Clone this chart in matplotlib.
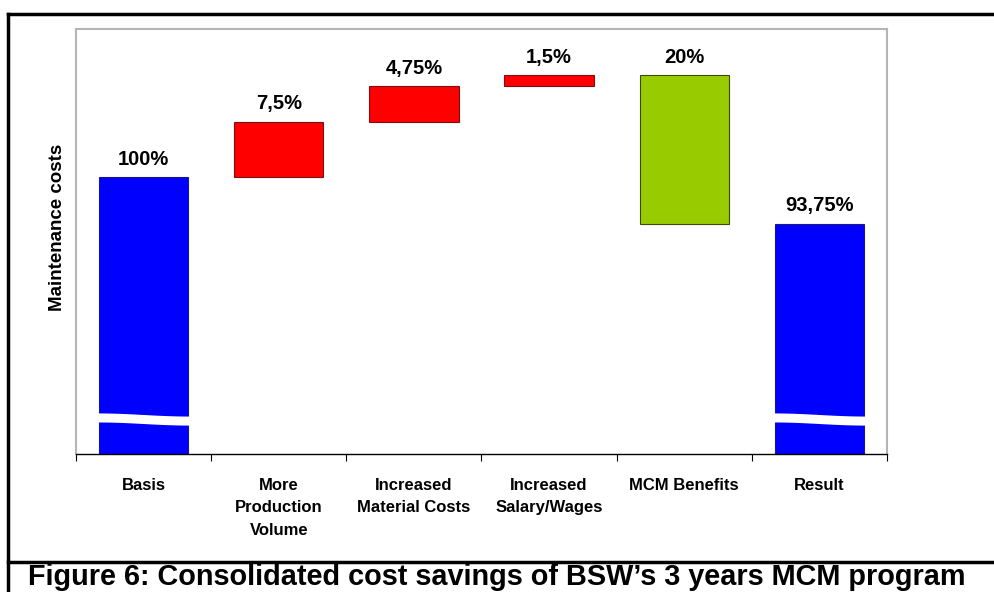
import numpy as np
import matplotlib.pyplot as plt
from matplotlib.lines import Line2D

plt.rcParams['font.family'] = ['Liberation Sans', 'DejaVu Sans']

# data
categories = ["Basis", "More\nProduction\nVolume", "Increased\nMaterial Costs",
              "Increased\nSalary/Wages", "MCM Benefits", "Result"]
changes = [100, 7.5, 4.75, 1.5, -20, 93.75]
value_labels = ["100%", "7,5%", "4,75%", "1,5%", "20%", "93,75%"]
kinds = ["total", "up", "up", "up", "down", "total"]

colors = {"total": "#0000FF", "up": "#FF0000", "down": "#99CC00"}
edges = {"total": "#1a1a80", "up": "#7a1010", "down": "#3a4a10"}

# waterfall bottoms / heights
bottoms, heights = [], []
level = 0
for v, k in zip(changes, kinds):
    if k == "total":
        bottoms.append(0)
        heights.append(v)
        level = v
    elif v >= 0:
        bottoms.append(level)
        heights.append(v)
        level += v
    else:
        bottoms.append(level + v)
        heights.append(-v)
        level += v

fig = plt.figure(figsize=(9.94, 5.92), dpi=100)
ax = fig.add_axes([76 / 994, 1 - 454 / 592, (887 - 76) / 994, (454 - 29) / 592])

x = np.arange(len(categories))
width = 0.66
ax.bar(x, heights, bottom=bottoms, width=width,
       color=[colors[k] for k in kinds], edgecolor=[edges[k] for k in kinds],
       linewidth=0.8, zorder=2)

ymin, ymax = 62.66, 120
ax.set_ylim(ymin, ymax)
ax.set_xlim(-0.5, len(categories) - 0.5)

# value labels
for xi, b, h, lab in zip(x, bottoms, heights, value_labels):
    ax.annotate(lab, (xi, b + h), xytext=(0, 6), textcoords="offset points",
                ha="center", va="bottom", fontsize=14.5, fontweight="bold")

# axis break marks on total bars
t = np.linspace(0, 1, 50)
for xi, k in zip(x, kinds):
    if k != "total":
        continue
    xs = xi - width / 2 - 0.01 + t * (width + 0.02)
    curve = (1 - np.cos(np.pi * t)) / 2
    top = 68.2 - 0.42 * curve
    bot = 66.98 - 0.42 * curve
    ax.fill_between(xs, bot, top, color="white", zorder=3, linewidth=0)

# ticks
ax.set_xticks(np.arange(-0.5, len(categories), 1.0))
ax.set_xticklabels([])
ax.tick_params(axis="x", which="major", direction="out", length=5, width=0.8, color="black")
ax.set_xticks(x, minor=True)
ax.set_xticklabels(categories, minor=True, fontsize=12, fontweight="bold", linespacing=1.65)
ax.tick_params(axis="x", which="minor", length=0, pad=17)
ax.set_yticks([])

for s in ["left", "top", "right"]:
    ax.spines[s].set_color("#b4b4b4")
    ax.spines[s].set_linewidth(1.5)
ax.spines["bottom"].set_color("black")
ax.spines["bottom"].set_linewidth(1)

fig.text(58 / 994, 1 - 227 / 592, "Maintenance costs", rotation=90,
         ha="center", va="center", fontsize=13.5, fontweight="bold")

# outer frame and caption
frame = dict(color="black", linewidth=2.5, transform=fig.transFigure)
fig.add_artist(Line2D([8 / 994, 1], [1 - 14 / 592] * 2, **frame))
fig.add_artist(Line2D([8 / 994] * 2, [0, 1 - 14 / 592], **frame))
fig.add_artist(Line2D([8 / 994, 1], [1 - 562 / 592] * 2, **frame))
fig.text(497 / 994, 1 - 585 / 592,
         "Figure 6: Consolidated cost savings of BSW\u2019s 3 years MCM program",
         ha="center", va="baseline", fontsize=20.8, fontweight="bold")

fig.savefig("out.png", dpi=100)
